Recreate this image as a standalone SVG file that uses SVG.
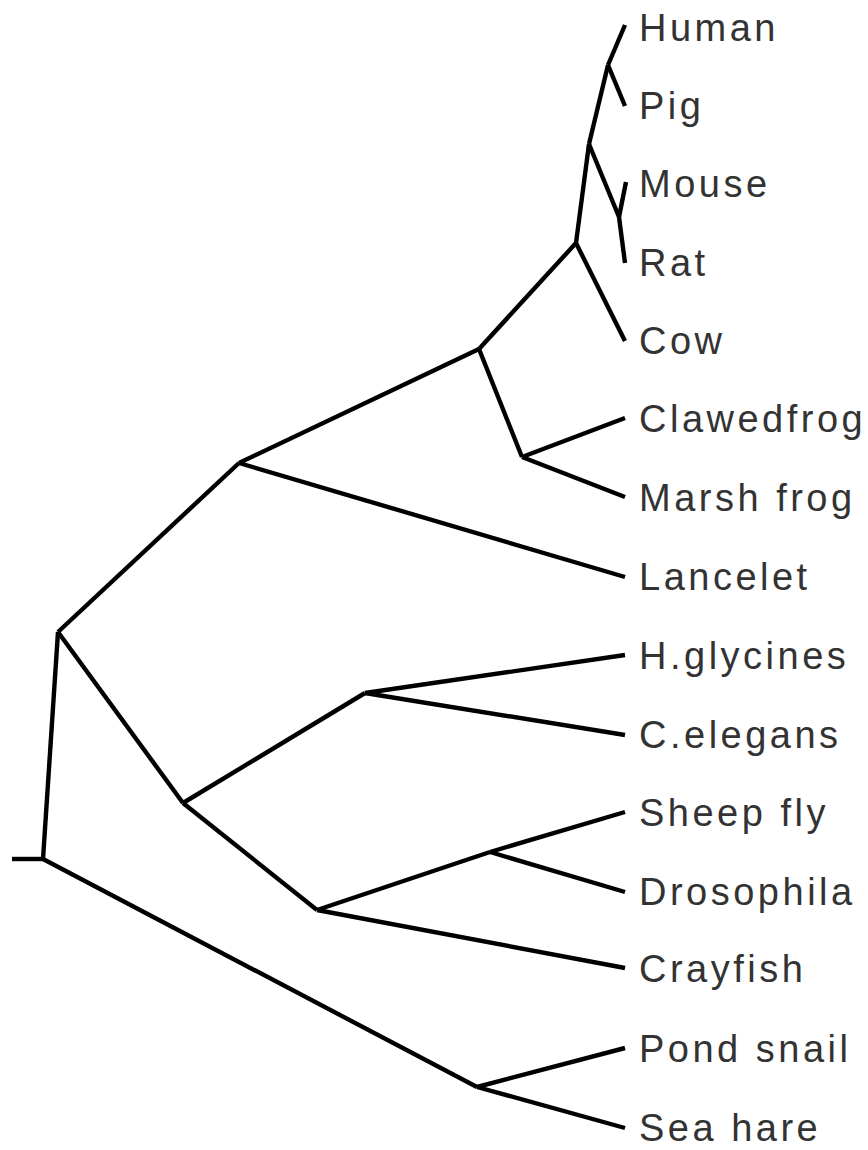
<svg xmlns="http://www.w3.org/2000/svg" width="868" height="1150" viewBox="0 0 868 1150">
<style>
.br{fill:none;stroke:#000;stroke-width:4.4;stroke-linecap:butt;stroke-linejoin:round}
.lb{font-family:"Liberation Sans",Arial,sans-serif;font-size:38px;letter-spacing:3.5px;fill:#333}
</style>
<rect width="868" height="1150" fill="#fff"/>
<g id="connectors" class="br">
<path d="M12,859 H43"/>
<path d="M43,859 L58,632"/>
<path d="M43,859 L477,1087"/>
<path d="M58,632 L239,463"/>
<path d="M58,632 L183,803"/>
<path d="M239,463 L479,349"/>
<path d="M239,463 L625,577"/>
<path d="M479,349 L576,243"/>
<path d="M479,349 L522,457"/>
<path d="M522,457 L625,418"/>
<path d="M522,457 L625,497"/>
<path d="M576,243 L589,144"/>
<path d="M576,243 L625,341"/>
<path d="M589,144 L608,65"/>
<path d="M589,144 L619,217"/>
<path d="M608,65 L625,25"/>
<path d="M608,65 L625,106"/>
<path d="M619,217 L626,182"/>
<path d="M619,217 L625,263"/>
<path d="M183,803 L365,693"/>
<path d="M183,803 L317,910"/>
<path d="M365,693 L625,655"/>
<path d="M365,693 L625,735"/>
<path d="M317,910 L490,852"/>
<path d="M317,910 L625,968"/>
<path d="M490,852 L625,812"/>
<path d="M490,852 L625,892"/>
<path d="M477,1087 L625,1048"/>
<path d="M477,1087 L625,1128"/>
</g>
<g id="human"><text class="lb" x="639" y="41">Human</text></g>
<g id="pig"><text class="lb" x="639" y="119">Pig</text></g>
<g id="mouse"><text class="lb" x="639" y="197">Mouse</text></g>
<g id="rat"><text class="lb" x="639" y="276">Rat</text></g>
<g id="cow"><text class="lb" x="639" y="354">Cow</text></g>
<g id="clawedfrog"><text class="lb" x="639" y="432">Clawedfrog</text></g>
<g id="marsh-frog"><text class="lb" x="639" y="511">Marsh frog</text></g>
<g id="lancelet"><text class="lb" x="639" y="590">Lancelet</text></g>
<g id="h-glycines"><text class="lb" x="639" y="669">H.glycines</text></g>
<g id="c-elegans"><text class="lb" x="639" y="748">C.elegans</text></g>
<g id="sheep-fly"><text class="lb" x="639" y="826">Sheep fly</text></g>
<g id="drosophila"><text class="lb" x="639" y="905">Drosophila</text></g>
<g id="crayfish"><text class="lb" x="639" y="982">Crayfish</text></g>
<g id="pond-snail"><text class="lb" x="639" y="1062">Pond snail</text></g>
<g id="sea-hare"><text class="lb" x="639" y="1141">Sea hare</text></g>
</svg>
